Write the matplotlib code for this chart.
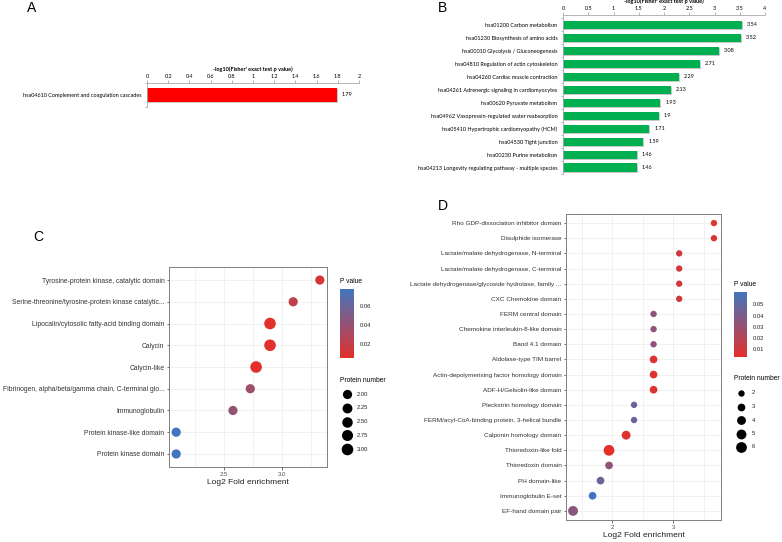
import numpy as np
import matplotlib
matplotlib.use("Agg")
import matplotlib.pyplot as plt
import matplotlib.patheffects as pe
from matplotlib.colors import LinearSegmentedColormap, Normalize
from matplotlib.cm import ScalarMappable

W, H = 782, 542

# KEGG panels (A, B)
a_terms = ["hsa04610 Complement and coagulation cascades"]
a_values = [1.79]

b_terms = ["hsa01200 Carbon metabolism",
           "hsa01230 Biosynthesis of amino acids",
           "hsa00010 Glycolysis / Gluconeogenesis",
           "hsa04810 Regulation of actin cytoskeleton",
           "hsa04260 Cardiac muscle contraction",
           "hsa04261 Adrenergic signaling in cardiomyocytes",
           "hsa00620 Pyruvate metabolism",
           "hsa04962 Vasopressin-regulated water reabsorption",
           "hsa05410 Hypertrophic cardiomyopathy (HCM)",
           "hsa04530 Tight junction",
           "hsa00230 Purine metabolism",
           "hsa04213 Longevity regulating pathway - multiple species"]
b_values = [3.54, 3.52, 3.08, 2.71, 2.29, 2.13, 1.93, 1.9, 1.71, 1.59, 1.46, 1.46]

# domain panels (C, D)
c_terms = ["Tyrosine-protein kinase, catalytic domain",
           "Serine-threonine/tyrosine-protein kinase catalytic...",
           "Lipocalin/cytosolic fatty-acid binding domain",
           "Calycin",
           "Calycin-like",
           "Fibrinogen, alpha/beta/gamma chain, C-terminal glo...",
           "Immunoglobulin",
           "Protein kinase-like domain",
           "Protein kinase domain"]
c_fold = [3.33, 3.10, 2.90, 2.90, 2.78, 2.73, 2.58, 2.09, 2.09]
c_count = [2, 2, 3, 3, 3, 2, 2, 2, 2]
c_pval = [0.012, 0.022, 0.006, 0.006, 0.005, 0.036, 0.041, 0.078, 0.078]
c_size_breaks = [2.00, 2.25, 2.50, 2.75, 3.00]
c_p_ticks = [0.02, 0.04, 0.06]

d_terms = ["Rho GDP-dissociation inhibitor domain",
           "Disulphide isomerase",
           "Lactate/malate dehydrogenase, N-terminal",
           "Lactate/malate dehydrogenase, C-terminal",
           "Lactate dehydrogenase/glycoside hydrolase, family ...",
           "CXC Chemokine domain",
           "FERM central domain",
           "Chemokine interleukin-8-like domain",
           "Band 4.1 domain",
           "Aldolase-type TIM barrel",
           "Actin-depolymerising factor homology domain",
           "ADF-H/Gelsolin-like domain",
           "Pleckstrin homology domain",
           "FERM/acyl-CoA-binding protein, 3-helical bundle",
           "Calponin homology domain",
           "Thioredoxin-like fold",
           "Thioredoxin domain",
           "PH domain-like",
           "Immunoglobulin E-set",
           "EF-hand domain pair"]
d_fold = [3.67, 3.67, 3.10, 3.10, 3.10, 3.10, 2.68, 2.68, 2.68, 2.68,
          2.68, 2.68, 2.36, 2.36, 2.23, 1.95, 1.95, 1.81, 1.68, 1.36]
d_count = [2, 2, 2, 2, 2, 2, 2, 2, 2, 3, 3, 3, 2, 2, 4, 6, 3, 3, 3, 5]
d_pval = [0.006, 0.006, 0.010, 0.010, 0.010, 0.010, 0.033, 0.033, 0.033, 0.006,
          0.006, 0.006, 0.047, 0.047, 0.005, 0.003, 0.034, 0.045, 0.061, 0.035]
d_size_breaks = [2, 3, 4, 5, 6]
d_p_ticks = [0.01, 0.02, 0.03, 0.04, 0.05]


def box(l, t, r, b):
    return [l / W, 1 - b / H, (r - l) / W, (b - t) / H]


fig = plt.figure(figsize=(W / 100, H / 100), dpi=100)

XL = "Lato"
GG = "Liberation Sans"
shadow = [pe.SimplePatchShadow(offset=(0.7, -0.7), shadow_rgbFace="#888888", alpha=0.45), pe.Normal()]


def bar_panel(ax, terms, values, color, xmax, step, ylim, height, pad, title):
    y = np.arange(len(terms))
    ax.barh(y, values, height=height, color=color, path_effects=shadow, zorder=2)
    for yi, v in zip(y, values):
        ax.text(v + pad, yi, str(v), va="center", ha="left", fontsize=4.0, family=XL)
    ticks = np.arange(0, xmax + step / 2, step)
    ax.set_xlim(0, xmax)
    ax.set_ylim(*ylim)
    ax.set_xticks(ticks)
    ax.set_xticklabels([f"{t:g}" for t in ticks], fontsize=4.0, family=XL)
    ax.xaxis.tick_top()
    ax.xaxis.set_label_position("top")
    ax.set_xlabel(title, fontsize=4.0, family=XL, fontweight="bold", labelpad=2)
    ax.set_yticks(y)
    ax.set_yticklabels(terms, fontsize=4.0, family=XL)
    ax.set_yticks(np.arange(len(terms) + 1) - 0.5, minor=True)
    ax.tick_params(axis="x", length=2, width=0.5, color="#999999", pad=1)
    ax.tick_params(axis="y", which="major", length=0, pad=4)
    ax.tick_params(axis="y", which="minor", length=1.5, width=0.5, color="#999999")
    for s in ["right", "bottom"]:
        ax.spines[s].set_visible(False)
    for s in ["top", "left"]:
        ax.spines[s].set_color("#aaaaaa")
        ax.spines[s].set_linewidth(0.6)


axA = fig.add_axes(box(147, 83, 359, 107))
bar_panel(axA, a_terms, a_values, "#ff0000", 2, 0.2, (0.5, -0.5), 0.55, 0.05,
          "-log10(Fisher' exact test p value)")

axB = fig.add_axes(box(563, 15, 765, 174))
bar_panel(axB, b_terms, b_values, "#00b050", 4, 0.5, (11.5, -0.75), 0.62, 0.1,
          "-log10(Fisher' exact test p value)")

cmap = LinearSegmentedColormap.from_list("pv", ["#e3302a", "#4275c0"])


def dot_panel(ax, terms, fold, count, pval, smin, smax, major, minor, fs):
    y = np.arange(len(terms))
    norm = Normalize(min(pval), max(pval))
    cmin, cmax = min(count), max(count)

    def sz(n):
        return smin + (np.asarray(n, float) - cmin) / (cmax - cmin) * (smax - smin)

    ax.scatter(fold, y, s=sz(count), c=pval, cmap=cmap, norm=norm, zorder=3, linewidths=0)
    span = max(fold) - min(fold)
    ax.set_xlim(min(fold) - 0.05 * span, max(fold) + 0.05 * span)
    ax.set_ylim(len(terms) - 0.4, -0.6)
    ax.set_xticks(major)
    ax.set_xticks(minor, minor=True)
    ax.set_xticklabels([str(m) for m in major], fontsize=4.3, family=GG, color="#4d4d4d")
    ax.set_yticks(y)
    ax.set_yticklabels(terms, fontsize=fs, family=GG, color="#333333")
    ax.grid(True, which="both", color="#ebebeb", linewidth=0.5, zorder=0)
    ax.set_axisbelow(True)
    ax.tick_params(which="major", length=1.8, width=0.5, color="#333333", pad=1.5)
    ax.tick_params(which="minor", length=0)
    for s in ax.spines.values():
        s.set_color("#7f7f7f")
        s.set_linewidth(0.7)
    ax.set_xlabel("Log2 Fold enrichment", fontsize=6, family=GG, color="#222222", labelpad=1.5)
    return norm, sz


# overlay axes for legend keys
lax = fig.add_axes([0, 0, 1, 1], zorder=5)
lax.set_xlim(0, 1)
lax.set_ylim(0, 1)
lax.axis("off")


def legends(cb_box, leg_title_xy, size_title_xy, size_x0, size_dx, size_y, size_dy,
            norm, sz, breaks, p_ticks, fmt):
    cax = fig.add_axes(box(*cb_box))
    cb = fig.colorbar(ScalarMappable(norm=norm, cmap=cmap), cax=cax)
    cb.outline.set_visible(False)
    cb.set_ticks(p_ticks)
    cb.set_ticklabels([f"{t:.2f}" for t in p_ticks])
    cax.tick_params(length=2, width=0.5, color="white", pad=2, labelsize=4.2, labelcolor="#222222")
    for lab in cax.get_yticklabels():
        lab.set_family(GG)
    fig.text(leg_title_xy[0] / W, 1 - leg_title_xy[1] / H, "P value", fontsize=4.8,
             family=GG, va="center", ha="left")
    fig.text(size_title_xy[0] / W, 1 - size_title_xy[1] / H, "Protein number", fontsize=4.8,
             family=GG, va="center", ha="left")
    for i, b in enumerate(breaks):
        yy = 1 - (size_y + i * size_dy) / H
        lax.scatter([size_x0 / W], [yy], s=sz(b), color="black", linewidths=0, clip_on=False)
        fig.text((size_x0 + size_dx) / W, yy, fmt(b), fontsize=4.2, family=GG, va="center",
                 ha="left", color="#222222")


axC = fig.add_axes(box(169, 267, 327, 467))
normC, szC = dot_panel(axC, c_terms, c_fold, c_count, c_pval, 44, 70,
                       [2.5, 3.0], [2.25, 2.75, 3.25], 4.9)
legends((340, 289, 354, 358), (340, 282), (340, 380), 347, 10, 394, 13.8,
        normC, szC, c_size_breaks, c_p_ticks, lambda b: f"{b:.2f}")

axD = fig.add_axes(box(566, 214, 721, 520))
normD, szD = dot_panel(axD, d_terms, d_fold, d_count, d_pval, 21, 60,
                       [2, 3], [1.5, 2.5, 3.5], 4.55)
legends((734, 292, 747, 357), (734, 284), (734, 379), 741, 11, 393, 13.5,
        normD, szD, d_size_breaks, d_p_ticks, lambda b: f"{b:g}")

for lab, x, y in [("A", 27, 8), ("B", 438, 8), ("C", 33, 237), ("D", 438, 206)]:
    fig.text(x / W, 1 - y / H, lab, fontsize=10, family=GG, va="center", ha="left")

fig.savefig("out.png", dpi=100)
